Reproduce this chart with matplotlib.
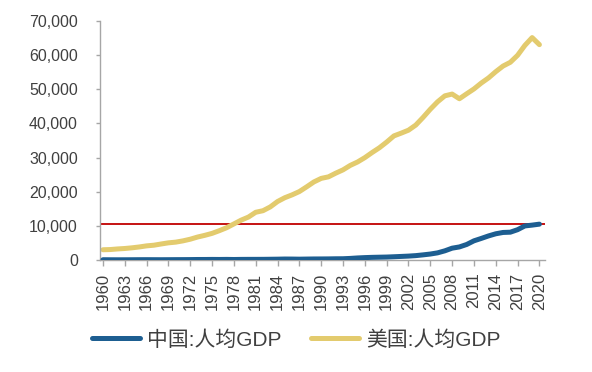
#!/usr/bin/env python3
# GDP per capita: China vs USA, 1960-2020 (current USD)

import numpy as np
import matplotlib
matplotlib.use("Agg")
import matplotlib.pyplot as plt
from matplotlib.ticker import FuncFormatter

# ------------------------------------------------------------
# Data
# ------------------------------------------------------------
years = list(range(1960, 2021))

china_gdp_pc = [
    90, 76, 70, 74, 85, 98, 104, 97, 91, 100,
    113, 119, 132, 157, 160, 178, 165, 185, 156, 184,
    195, 197, 203, 225, 251, 294, 282, 252, 284, 311,
    318, 333, 366, 377, 473, 610, 709, 782, 829, 873,
    959, 1053, 1149, 1289, 1509, 1753, 2099, 2694, 3468, 3832,
    4550, 5618, 6317, 7051, 7679, 8067, 8148, 8879, 9977, 10217,
    10500,
]

usa_gdp_pc = [
    3007, 3067, 3244, 3375, 3574, 3828, 4146, 4336, 4696, 5032,
    5234, 5609, 6094, 6726, 7226, 7801, 8592, 9453, 10565, 11674,
    12575, 13976, 14434, 15544, 17121, 18237, 19071, 20039, 21417, 22857,
    23889, 24342, 25419, 26387, 27695, 28691, 29968, 31459, 32854, 34516,
    36330, 37134, 37998, 39490, 41725, 44123, 46302, 48050, 48570, 47195,
    48651, 50066, 51784, 53291, 55124, 56763, 57867, 59915, 62805, 65095,
    63028,
]

reference_level = 10500

series_labels = ["中国:人均GDP", "美国:人均GDP"]

# ------------------------------------------------------------
# Plot
# ------------------------------------------------------------
plt.rcParams["font.family"] = ["Liberation Sans", "Noto Sans CJK SC"]

fig = plt.figure(figsize=(5.92, 3.72), dpi=100)
ax = fig.add_axes([0.169, 0.301, 0.752, 0.643])

blue = "#1D5E91"
gold = "#E3CB6E"
gray = "#A6A6A6"
text_c = "#404040"

ax.axhline(reference_level, color="#C00000", lw=1.3, zorder=1)
ax.plot(years, china_gdp_pc, color=blue, lw=3.6, solid_capstyle="round",
        label=series_labels[0], zorder=3)
ax.plot(years, usa_gdp_pc, color=gold, lw=3.6, solid_capstyle="round",
        label=series_labels[1], zorder=2)

ax.set_xlim(1959.6, 2020.8)
ax.set_ylim(0, 70000)
ax.set_yticks(np.arange(0, 70001, 10000))
ax.yaxis.set_major_formatter(FuncFormatter(lambda v, p: f"{int(v):,}"))
ax.set_xticks(years[::3])
ax.tick_params(axis="x", rotation=90, labelsize=12, colors=gray,
               labelcolor=text_c, length=4, width=1, pad=5)
ax.tick_params(axis="y", labelsize=11.5, colors=gray, labelcolor=text_c,
               length=3, width=1, pad=13)

for side in ("top", "right"):
    ax.spines[side].set_visible(False)
for side in ("left", "bottom"):
    ax.spines[side].set_color(gray)
    ax.spines[side].set_linewidth(1)

fig.legend(loc="center", bbox_to_anchor=(0.5, 0.086), ncol=2, frameon=False,
           fontsize=15, handlelength=2.3, handletextpad=0.35,
           columnspacing=1.4, labelcolor=text_c)

fig.savefig("out.png", dpi=100)
